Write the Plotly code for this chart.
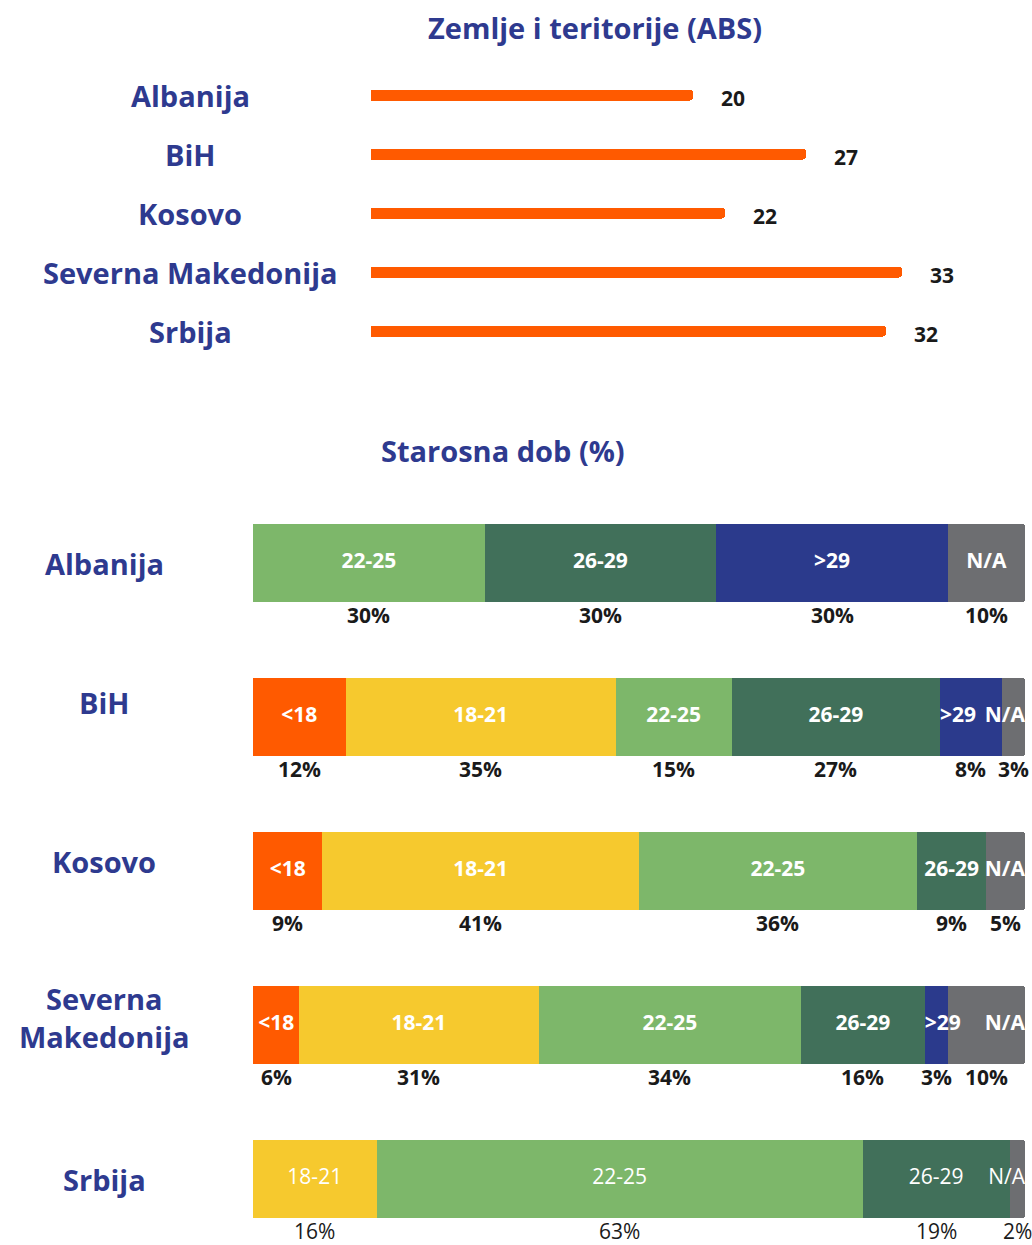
import plotly.graph_objects as go

# ---------------- data ----------------
countries = ["Albanija", "BiH", "Kosovo", "Severna Makedonija", "Srbija"]
country_labels_bottom = ["Albanija", "BiH", "Kosovo", "Severna<br>Makedonija", "Srbija"]
abs_counts = [20, 27, 22, 33, 32]

age_groups = ["<18", "18-21", "22-25", "26-29", ">29", "N/A"]
pct_albanija = [0, 0, 30, 30, 30, 10]
pct_bih = [12, 35, 15, 27, 8, 3]
pct_kosovo = [9, 41, 36, 9, 0, 5]
pct_sm = [6, 31, 34, 16, 3, 10]
pct_srbija = [0, 16, 63, 19, 0, 2]
pct_rows = [pct_albanija, pct_bih, pct_kosovo, pct_sm, pct_srbija]

title_top = "Zemlje i teritorije (ABS)"
title_bottom = "Starosna dob (%)"

# ---------------- style ----------------
W, H = 1032, 1245
NAVY_TXT = "#2E3A8F"
ORANGE = "#FF5A00"
group_colors = ["#FF5A00", "#F6C92E", "#7DB76A", "#41705A", "#2B3A8C", "#6D6E71"]
FONT = "Open Sans"
label_yshift_bottom = [0, 15, 10, 8, 0]
thin_rows = {"Srbija"}

fig = go.Figure()

# top chart
fig.add_trace(go.Bar(
    y=countries, x=abs_counts, orientation="h", width=0.2,
    marker=dict(color=ORANGE, line=dict(width=0)),
    xaxis="x", yaxis="y", showlegend=False, hoverinfo="x+y",
))

# bottom stacked chart
for gi, g in enumerate(age_groups):
    vals = [row[gi] for row in pct_rows]
    xs = [v if v else None for v in vals]
    fig.add_trace(go.Bar(
        y=countries, x=xs, orientation="h", width=0.506, name=g,
        marker=dict(color=group_colors[gi], line=dict(width=0)),
        xaxis="x2", yaxis="y2", showlegend=False,
    ))

# segment labels drawn on top of all bars
for thin in (False, True):
    tx, ty, tt, tp = [], [], [], []
    for ri, c in enumerate(countries):
        if (c in thin_rows) != thin:
            continue
        row = pct_rows[ri]
        nz = [i for i, v in enumerate(row) if v]
        last, first = nz[-1], nz[0]
        cum = 0
        for k, gi in enumerate(range(len(row))):
            v = row[gi]
            if v:
                prev_idx = nz[nz.index(gi) - 1] if gi != first else None
                if gi == last and (v < 6 or (prev_idx is not None and row[prev_idx] < 9)):
                    tx.append(100); tp.append("middle left")
                elif gi != first and gi != last and v < 9:
                    tx.append(cum); tp.append("middle right")
                else:
                    tx.append(cum + v / 2); tp.append("middle center")
                ty.append(c); tt.append(age_groups[gi])
            cum += v
    fig.add_trace(go.Scatter(
        x=tx, y=ty, text=tt, mode="text", textposition=tp,
        textfont=dict(color="white", size=21, family=FONT,
                      weight="normal" if thin else "bold"),
        cliponaxis=False, hoverinfo="skip", showlegend=False,
        xaxis="x2", yaxis="y2",
    ))

annotations = []
# top labels
for c, v in zip(countries, abs_counts):
    annotations.append(dict(x=190 / W, xref="paper", y=c, yref="y", text=c,
                            showarrow=False, xanchor="center",
                            font=dict(family=FONT, size=29, color=NAVY_TXT, weight="bold")))
    annotations.append(dict(x=v, xref="x", y=c, yref="y", text=str(v), showarrow=False,
                            xanchor="left", xshift=26, yshift=-3,
                            font=dict(family=FONT, size=21, color="#1a1a1a", weight="bold")))

# bottom labels
for ri, (c, lab) in enumerate(zip(countries, country_labels_bottom)):
    annotations.append(dict(x=104 / W, xref="paper", y=c, yref="y2", text=lab,
                            showarrow=False, xanchor="center", yshift=label_yshift_bottom[ri],
                            font=dict(family=FONT, size=29, color=NAVY_TXT, weight="bold")))
    cum = 0
    for v in pct_rows[ri]:
        if v:
            annotations.append(dict(x=cum + v / 2, xref="x2", y=ri + 0.34, yref="y2",
                                    text=f"{v}%", showarrow=False, xanchor="center",
                                    font=dict(family=FONT, size=21, color="#1a1a1a",
                                              weight="normal" if c in thin_rows else "bold")))
        cum += v

annotations.append(dict(x=595 / W, xref="paper", y=1 - 27 / H, yref="paper", text=title_top,
                        showarrow=False, xanchor="center", yanchor="middle",
                        font=dict(family=FONT, size=29, color=NAVY_TXT, weight="bold")))
annotations.append(dict(x=503 / W, xref="paper", y=1 - 451 / H, yref="paper", text=title_bottom,
                        showarrow=False, xanchor="center", yanchor="middle",
                        font=dict(family=FONT, size=29, color=NAVY_TXT, weight="bold")))

px_per_unit = 16.1
x0_px = 371
xmax = 41

fig.update_layout(
    width=W, height=H, margin=dict(l=0, r=0, t=0, b=0),
    paper_bgcolor="white", plot_bgcolor="white",
    barmode="stack", bargap=0,
    font=dict(family=FONT),
    xaxis=dict(domain=[x0_px / W, (x0_px + xmax * px_per_unit) / W], range=[0, xmax],
               visible=False, fixedrange=True),
    yaxis=dict(domain=[1 - 360.5 / H, 1 - 65.5 / H], range=[4.5, -0.5],
               type="category", categoryarray=countries, visible=False, fixedrange=True),
    xaxis2=dict(domain=[253 / W, 1025 / W], range=[0, 100], visible=False,
                anchor="y2", fixedrange=True),
    yaxis2=dict(domain=[0, 1 - 486 / H], range=[(1245 - 563) / 154, -0.5],
                type="category", categoryarray=countries, visible=False,
                anchor="x2", fixedrange=True),
    annotations=annotations,
    barcornerradius=3,
)
fig.write_html("out.html", config={"displayModeBar": False},
               post_script="document.body.style.margin='0';document.body.style.overflow='hidden';")
